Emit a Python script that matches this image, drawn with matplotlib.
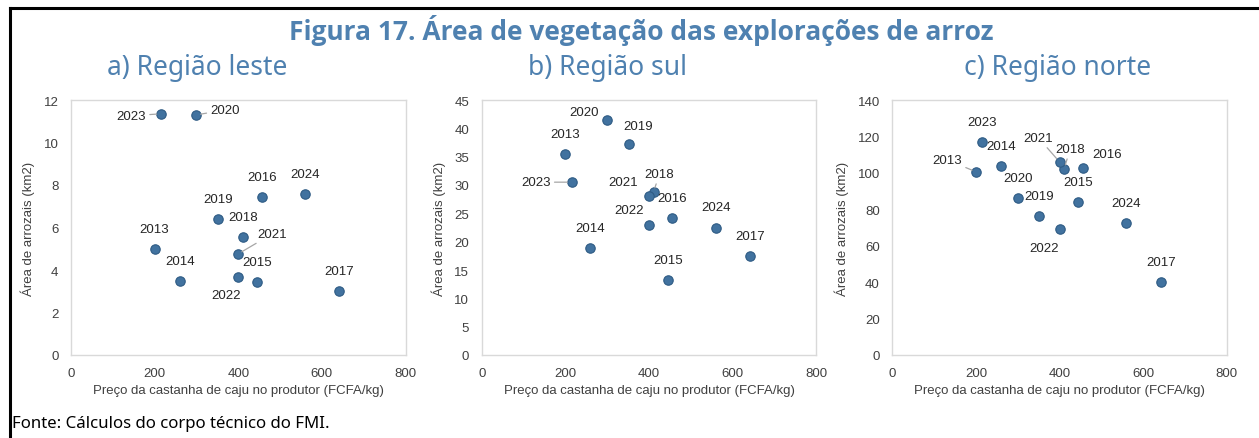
import matplotlib
matplotlib.use("Agg")
import matplotlib.pyplot as plt
from matplotlib.lines import Line2D

# dados
years = ["2013", "2014", "2015", "2016", "2017", "2018", "2019", "2020", "2021", "2022", "2023", "2024"]
price = [200, 260, 445, 456, 642, 411, 352, 300, 400, 400, 215, 560]

area_leste = [5.0, 3.5, 3.43, 7.43, 3.03, 5.57, 6.4, 11.3, 4.76, 3.66, 11.35, 7.6]
area_sul = [35.4, 18.9, 13.2, 24.1, 17.4, 28.8, 37.3, 41.45, 28.1, 22.9, 30.5, 22.5]
area_norte = [100.6, 103.9, 83.9, 102.4, 40.2, 102.2, 76.5, 86.4, 106.0, 69.4, 117.1, 72.7]

titles = ["a) Região leste", "b) Região sul", "c) Região norte"]
y_limits = [(0, 12, 2), (0, 45, 5), (0, 140, 20)]

# deslocamento dos rótulos (pixels), True = linha de chamada
offsets_leste = {"2023": (-30, -2, True), "2020": (29, 5, True), "2021": (34, 20, True),
                 "2022": (-12, -18, False)}
offsets_sul = {"2020": (-23, 8, False), "2019": (9, 18, False), "2023": (-36, 0, True),
               "2018": (6, 18, True), "2021": (-26, 14, False), "2022": (-20, 15, False)}
offsets_norte = {"2013": (-29, 12, True), "2021": (-21, 24, True), "2018": (6, 20, True),
                 "2016": (24, 14, False), "2022": (-15, -19, False)}

BLUE = "#4F81B0"
PX = 0.72  # pontos por pixel

fig = plt.figure(figsize=(12.59, 4.39), dpi=100)

# moldura
fig.add_artist(Line2D([10 / 1259, 1258 / 1259], [1 - 9 / 439, 1 - 9 / 439],
                      color="black", lw=2.2, transform=fig.transFigure))
fig.add_artist(Line2D([10 / 1259, 10 / 1259], [0, 1 - 9 / 439],
                      color="black", lw=2.2, transform=fig.transFigure))

fig.text(641 / 1259, 1 - 31 / 439, "Figura 17. Área de vegetação das explorações de arroz",
         ha="center", va="center", fontsize=19, fontweight="bold", color=BLUE,
         family="Open Sans")

lefts = [71, 481.7, 892.3]
title_x = [197, 608, 1058]
series = [area_leste, area_sul, area_norte]
offsets = [offsets_leste, offsets_sul, offsets_norte]

for i in range(3):
    ax = fig.add_axes([lefts[i] / 1259, 1 - 356 / 439, 334.5 / 1259, 255 / 439])
    fig.text(title_x[i] / 1259, 1 - 68 / 439, titles[i], ha="center", va="center",
             fontsize=19, color=BLUE, family="Noto Sans", fontweight="light")

    ax.scatter(price, series[i], s=46, color="#41729F", edgecolor="#2E5B84",
               linewidth=0.8, zorder=3)

    for year, x, y in zip(years, price, series[i]):
        dx, dy, leader = offsets[i].get(year, (0, 20, False))
        props = None
        if leader:
            props = dict(arrowstyle="-", color="#A6A6A6", lw=0.9, shrinkA=1, shrinkB=3)
        ax.annotate(year, (x, y), xytext=(dx * PX, dy * PX), textcoords="offset points",
                    ha="center", va="center", fontsize=9.5, color="#262626",
                    family="Liberation Sans", arrowprops=props)

    lo, hi, step = y_limits[i]
    ax.set_xlim(0, 800)
    ax.set_ylim(lo, hi)
    ax.set_xticks(range(0, 801, 200))
    ax.set_yticks(range(lo, hi + 1, step))
    for spine in ax.spines.values():
        spine.set_color("#D9D9D9")
        spine.set_linewidth(1.0)
    ax.tick_params(length=0, pad=9, labelsize=9.5, labelcolor="#404040")
    for lab in ax.get_xticklabels() + ax.get_yticklabels():
        lab.set_family("Liberation Sans")
    ax.set_xlabel("Preço da castanha de caju no produtor (FCFA/kg)", fontsize=9.5,
                  color="#404040", family="Liberation Sans", labelpad=3)
    ax.set_ylabel("Área de arrozais (km2)", fontsize=9.5, color="#404040",
                  family="Liberation Sans", labelpad=6)

fig.text(12 / 1259, 1 - 424 / 439, "Fonte: Cálculos do corpo técnico do FMI.",
         ha="left", va="center", fontsize=12.1, color="black", family="Noto Sans")

fig.savefig("out.png", dpi=100)
